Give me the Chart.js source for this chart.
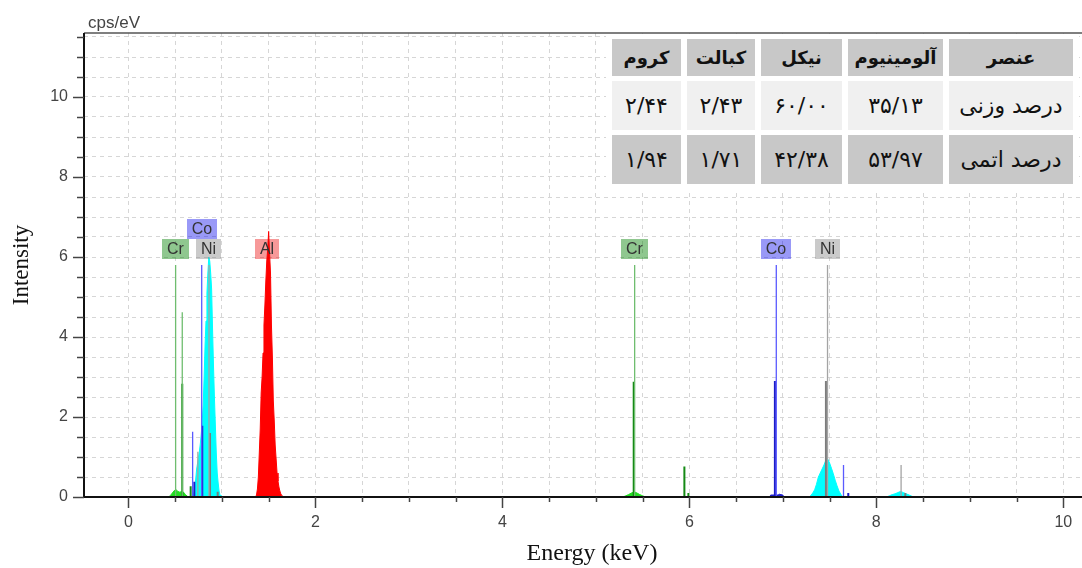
<!DOCTYPE html>
<html>
<head>
<meta charset="utf-8">
<script src="https://cdn.jsdelivr.net/npm/chart.js"></script>
<style>
html,body{margin:0;padding:0;background:#fff;overflow:hidden}
#wrap{position:relative;width:1082px;height:568px;overflow:hidden}
#c{position:absolute;left:0;top:0}
#tbl{position:absolute;left:606px;top:34px;width:473px;border-collapse:separate;border-spacing:6px 5px;background:#fff;direction:rtl;table-layout:fixed;font-family:'DejaVu Sans',sans-serif;color:#111}
#tbl td{padding:0;text-align:center;vertical-align:middle;white-space:nowrap;overflow:hidden}
#tbl tr.h td{background:#c8c8c8;height:37px;font-weight:bold;font-size:18px}
#tbl tr.w td{background:#f0f0f0;height:49px;font-size:22px}
#tbl tr.a td{background:#c8c8c8;height:49px;font-size:22px}
#tbl td.rl{font-size:21px}
</style>
</head>
<body>
<div id="wrap">
<canvas id="c" width="1082" height="568"></canvas>
<table id="tbl"></table>
</div>
<script>
// ---------- table text ----------
const tableHeader = ['عنصر', 'آلومینیوم', 'نیکل', 'کبالت', 'کروم'];
const weightRow   = ['درصد وزنی', '۳۵/۱۳', '۶۰/۰۰', '۲/۴۳', '۲/۴۴'];
const atomicRow   = ['درصد اتمی', '۵۳/۹۷', '۴۲/۳۸', '۱/۷۱', '۱/۹۴'];

// ---------- axis tick labels ----------
const xTickLabels = [0, 2, 4, 6, 8, 10];
const yTickLabels = [0, 2, 4, 6, 8, 10];

// ---------- filled spectrum peaks (energy keV, intensity cps/eV) ----------
const crLFillE = [0.43, 0.45, 0.47, 0.49, 0.51, 0.53, 0.55, 0.57, 0.59, 0.61, 0.63, 0.64];
const crLFillI = [0, 0.04, 0.10, 0.16, 0.18, 0.14, 0.12, 0.14, 0.12, 0.06, 0.02, 0];

const niLFillE = [0.69, 0.70, 0.71, 0.72, 0.73, 0.74, 0.75, 0.76, 0.77, 0.78, 0.79, 0.80, 0.81, 0.82, 0.83, 0.84, 0.85, 0.86, 0.87, 0.88, 0.89, 0.90, 0.91, 0.92, 0.93, 0.94, 0.95, 0.96, 0.97, 0.98, 0.99];
const niLFillI = [0, 0.10, 0.25, 0.45, 0.70, 0.85, 1.00, 1.15, 1.35, 1.60, 1.90, 2.30, 3.00, 3.80, 4.40, 5.10, 5.60, 6.00, 5.90, 5.60, 5.20, 4.20, 3.30, 2.50, 1.80, 1.10, 0.60, 0.35, 0.15, 0.05, 0];

const alKFillE = [1.36, 1.37, 1.38, 1.39, 1.40, 1.41, 1.42, 1.43, 1.44, 1.45, 1.46, 1.47, 1.48, 1.49, 1.50, 1.51, 1.52, 1.53, 1.54, 1.55, 1.56, 1.57, 1.58, 1.59, 1.60, 1.61, 1.62, 1.63, 1.64, 1.66];
const alKFillI = [0, 0.05, 0.20, 0.50, 1.10, 1.70, 2.60, 3.00, 3.60, 4.30, 4.80, 5.40, 5.90, 6.20, 6.64, 6.10, 5.60, 4.30, 3.50, 2.40, 1.90, 1.30, 0.95, 0.60, 0.40, 0.25, 0.15, 0.08, 0.04, 0];

const crKFillE = [5.29, 5.32, 5.35, 5.38, 5.41, 5.44, 5.47, 5.50, 5.53];
const crKFillI = [0, 0.03, 0.06, 0.10, 0.13, 0.10, 0.06, 0.03, 0];

const coKFillE = [6.86, 6.87, 6.95, 6.96, 7.00, 7.01];
const coKFillI = [0, 0.05, 0.05, 0.07, 0.05, 0];

const niKaFillE = [7.28, 7.30, 7.32, 7.34, 7.36, 7.38, 7.40, 7.42, 7.44, 7.46, 7.47, 7.48, 7.50, 7.52, 7.54, 7.56, 7.58, 7.60, 7.62, 7.64];
const niKaFillI = [0, 0.04, 0.10, 0.18, 0.32, 0.50, 0.60, 0.70, 0.80, 0.92, 0.97, 0.95, 0.85, 0.72, 0.58, 0.42, 0.28, 0.15, 0.07, 0];

const niKbFillE = [8.11, 8.14, 8.17, 8.20, 8.23, 8.26, 8.29, 8.32, 8.35, 8.38, 8.40];
const niKbFillI = [0, 0.03, 0.06, 0.08, 0.11, 0.14, 0.11, 0.08, 0.05, 0.02, 0];

// ---------- element line markers (energy keV, height) ----------
const crMainE = [0.505, 0.576, 5.415];
const crMainH = [5.8, 4.62, 5.8];
const crSubE  = [0.576, 0.666, 5.405, 5.947, 5.99];
const crSubH  = [2.83, 0.27, 2.88, 0.76, 0.10];

const coMainE = [0.687, 0.784, 6.930, 7.649];
const coMainH = [1.63, 5.8, 5.8, 0.80];
const coSubE  = [0.705, 0.790, 6.915, 7.700];
const coSubH  = [0.38, 1.78, 2.90, 0.10];

const niMainE = [0.743, 0.862, 7.478, 8.265];
const niMainH = [1.13, 5.8, 5.8, 0.80];
const niSubE  = [0.873, 0.955, 7.461, 8.310];
const niSubH  = [1.60, 0.13, 2.90, 0.10];

// ---------- element labels ----------
const labelNames = ['Cr', 'Co', 'Ni', 'Al', 'Cr', 'Co', 'Ni'];
const labelE     = [0.505, 0.784, 0.862, 1.487, 5.415, 6.930, 7.478];

// ---------- build table ----------
(function buildTable(){
  const t = document.getElementById('tbl');
  const widths = [124, 95, 81, 68, 69];
  const cg = document.createElement('colgroup');
  widths.forEach(w => { const c = document.createElement('col'); c.style.width = w + 'px'; cg.appendChild(c); });
  t.appendChild(cg);
  [[tableHeader, 'h'], [weightRow, 'w'], [atomicRow, 'a']].forEach(([row, cls]) => {
    const tr = document.createElement('tr'); tr.className = cls;
    row.forEach((txt, i) => {
      const td = document.createElement('td'); td.textContent = txt;
      if (i === 0 && cls !== 'h') td.className = 'rl';
      tr.appendChild(td);
    });
    t.appendChild(tr);
  });
})();

// ---------- chart ----------
const pts = (E, I) => E.map((e, i) => ({x: e, y: I[i]}));
const sticks = (E, H) => {
  const out = [];
  E.map((e, i) => [e, H[i]]).sort((a, b) => a[0] - b[0]).forEach(([e, h]) => {
    out.push({x: e, y: 0}, {x: e, y: h}, {x: e, y: null});
  });
  return out;
};

const fillDs = (E, I, color) => ({
  data: pts(E, I), fill: 'origin', backgroundColor: color, borderColor: color,
  borderWidth: 1, pointRadius: 0, tension: 0, order: 3
});
const stickDs = (E, H, color, w) => ({
  data: sticks(E, H), fill: false, borderColor: color, borderWidth: w,
  pointRadius: 0, spanGaps: false, tension: 0, order: 1
});

const C = {
  crFill: '#22dd22', crMain: '#6fbd6f', crSub: '#158a15',
  coFill: '#2020cc', coMain: '#5a5aff', coSub: '#1c1cc8',
  niFill: '#00ffff', niMain: '#a4a4a4', niSub: '#7c7c7c',
  alFill: '#ff0000'
};
const labelColors = {
  Cr: 'rgba(0,128,0,0.44)', Co: 'rgba(0,0,235,0.40)',
  Ni: 'rgba(128,128,128,0.42)', Al: 'rgba(235,0,0,0.40)'
};

const isLabelled = (arr, v) => arr.some(a => Math.abs(a - v) < 1e-9);
const X_TITLE_SHIFT = 18;

const decor = {
  id: 'decor',
  beforeDraw(chart) {
    // widen the x scale box on the right only while drawing, to centre its title like the original
    chart.scales.x.right += X_TITLE_SHIFT;
  },
  afterDatasetsDraw(chart) {
    const {ctx, chartArea: a, scales: {x, y}} = chart;
    const W = chart.width;
    ctx.save();
    ctx.setLineDash([]);
    // top frame line
    ctx.strokeStyle = '#555'; ctx.lineWidth = 1.5;
    ctx.beginPath(); ctx.moveTo(a.left, a.top); ctx.lineTo(W, a.top); ctx.stroke();
    // axes
    ctx.strokeStyle = '#111'; ctx.lineWidth = 2;
    ctx.beginPath(); ctx.moveTo(a.left, a.top); ctx.lineTo(a.left, a.bottom + 1); ctx.stroke();
    ctx.beginPath(); ctx.moveTo(a.left - 1, a.bottom); ctx.lineTo(W, a.bottom); ctx.stroke();
    // ticks
    ctx.strokeStyle = '#444'; ctx.lineWidth = 1.5;
    y.ticks.forEach(t => {
      const p = Math.round(y.getPixelForValue(t.value)) + 0.5;
      const len = isLabelled(yTickLabels, t.value) ? 11 : 7;
      ctx.beginPath(); ctx.moveTo(a.left - len, p); ctx.lineTo(a.left, p); ctx.stroke();
    });
    x.ticks.forEach(t => {
      const p = Math.round(x.getPixelForValue(t.value)) + 0.5;
      const len = isLabelled(xTickLabels, t.value) ? 11 : 5;
      ctx.beginPath(); ctx.moveTo(p, a.bottom); ctx.lineTo(p, a.bottom + len); ctx.stroke();
    });
    ctx.restore();
  },
  afterDraw(chart) {
    chart.scales.x.right -= X_TITLE_SHIFT;
    const {ctx, chartArea: a, scales: {x, y}} = chart;
    ctx.save();
    // unit label
    ctx.font = '17px "Liberation Sans"'; ctx.fillStyle = '#444';
    ctx.textAlign = 'left'; ctx.textBaseline = 'alphabetic';
    ctx.fillText('cps/eV', a.left + 4, 28);
    // element labels
    ctx.font = '16px "Liberation Sans"';
    const topH = Math.max(...crMainH, ...coMainH, ...niMainH);
    const anchor = y.getPixelForValue(topH) - 6;
    const items = labelNames.map((n, i) => ({n, e: labelE[i]})).sort((p, q) => p.e - q.e);
    const placed = [];
    items.forEach(it => {
      const cx = x.getPixelForValue(it.e);
      const w = Math.round(ctx.measureText(it.n).width + 10);
      const l = Math.round(cx - w / 2), r = l + w;
      let row = 0;
      while (placed.some(p => p.row === row && l < p.r && r > p.l)) row++;
      placed.push({l, r, row});
      const bottom = Math.round(anchor - row * 20);
      ctx.fillStyle = labelColors[it.n];
      ctx.fillRect(l, bottom - 20, w, 20);
      ctx.fillStyle = '#333'; ctx.textAlign = 'center'; ctx.textBaseline = 'middle';
      ctx.fillText(it.n, l + w / 2, bottom - 9);
    });
    ctx.restore();
  }
};

const tickFont = {family: 'Liberation Sans', size: 16};
const gridOpts = {color: '#d6d6d6', lineWidth: 1, drawTicks: false};

new Chart(document.getElementById('c'), {
  type: 'line',
  data: {
    datasets: [
      stickDs(crMainE, crMainH, C.crMain, 1.3),
      stickDs(crSubE, crSubH, C.crSub, 2),
      stickDs(coMainE, coMainH, C.coMain, 1.3),
      stickDs(coSubE, coSubH, C.coSub, 2),
      stickDs(niMainE, niMainH, C.niMain, 1.3),
      stickDs(niSubE, niSubH, C.niSub, 2),
      fillDs(crLFillE, crLFillI, C.crFill),
      fillDs(niLFillE, niLFillI, C.niFill),
      fillDs(alKFillE, alKFillI, C.alFill),
      fillDs(crKFillE, crKFillI, C.crFill),
      fillDs(coKFillE, coKFillI, C.coFill),
      fillDs(niKaFillE, niKaFillI, C.niFill),
      fillDs(niKbFillE, niKbFillI, C.niFill)
    ]
  },
  options: {
    responsive: false,
    animation: false,
    devicePixelRatio: 1,
    events: [],
    layout: {padding: {top: 33, left: 0, right: 0, bottom: 0}},
    plugins: {legend: {display: false}, tooltip: {enabled: false}},
    scales: {
      x: {
        type: 'linear', min: -0.475, max: 10.2,
        afterFit(s) { s.height = 71; s.paddingLeft = 0; s.paddingRight = 0; },
        ticks: {stepSize: 0.5, includeBounds: false, autoSkip: false, maxRotation: 0, padding: 16,
                color: '#444', font: tickFont,
                callback: v => isLabelled(xTickLabels, v) ? String(v) : ''},
        grid: gridOpts,
        border: {display: false, dash: [4, 4]},
        title: {display: true, text: 'Energy (keV)', color: '#111',
                font: {family: 'Liberation Serif', size: 24}, padding: {top: 0, bottom: 0}}
      },
      y: {
        type: 'linear', min: 0, max: 11.6,
        afterFit(s) { s.width = 84; },
        ticks: {stepSize: 0.5, includeBounds: false, autoSkip: false, padding: 16,
                color: '#444', font: tickFont,
                callback: v => isLabelled(yTickLabels, v) ? String(v) : ''},
        grid: gridOpts,
        border: {display: false, dash: [4, 4]},
        title: {display: true, text: 'Intensity', color: '#111',
                font: {family: 'Liberation Serif', size: 23}, padding: {top: 8, bottom: 0}}
      }
    }
  },
  plugins: [decor]
});
</script>
</body>
</html>
